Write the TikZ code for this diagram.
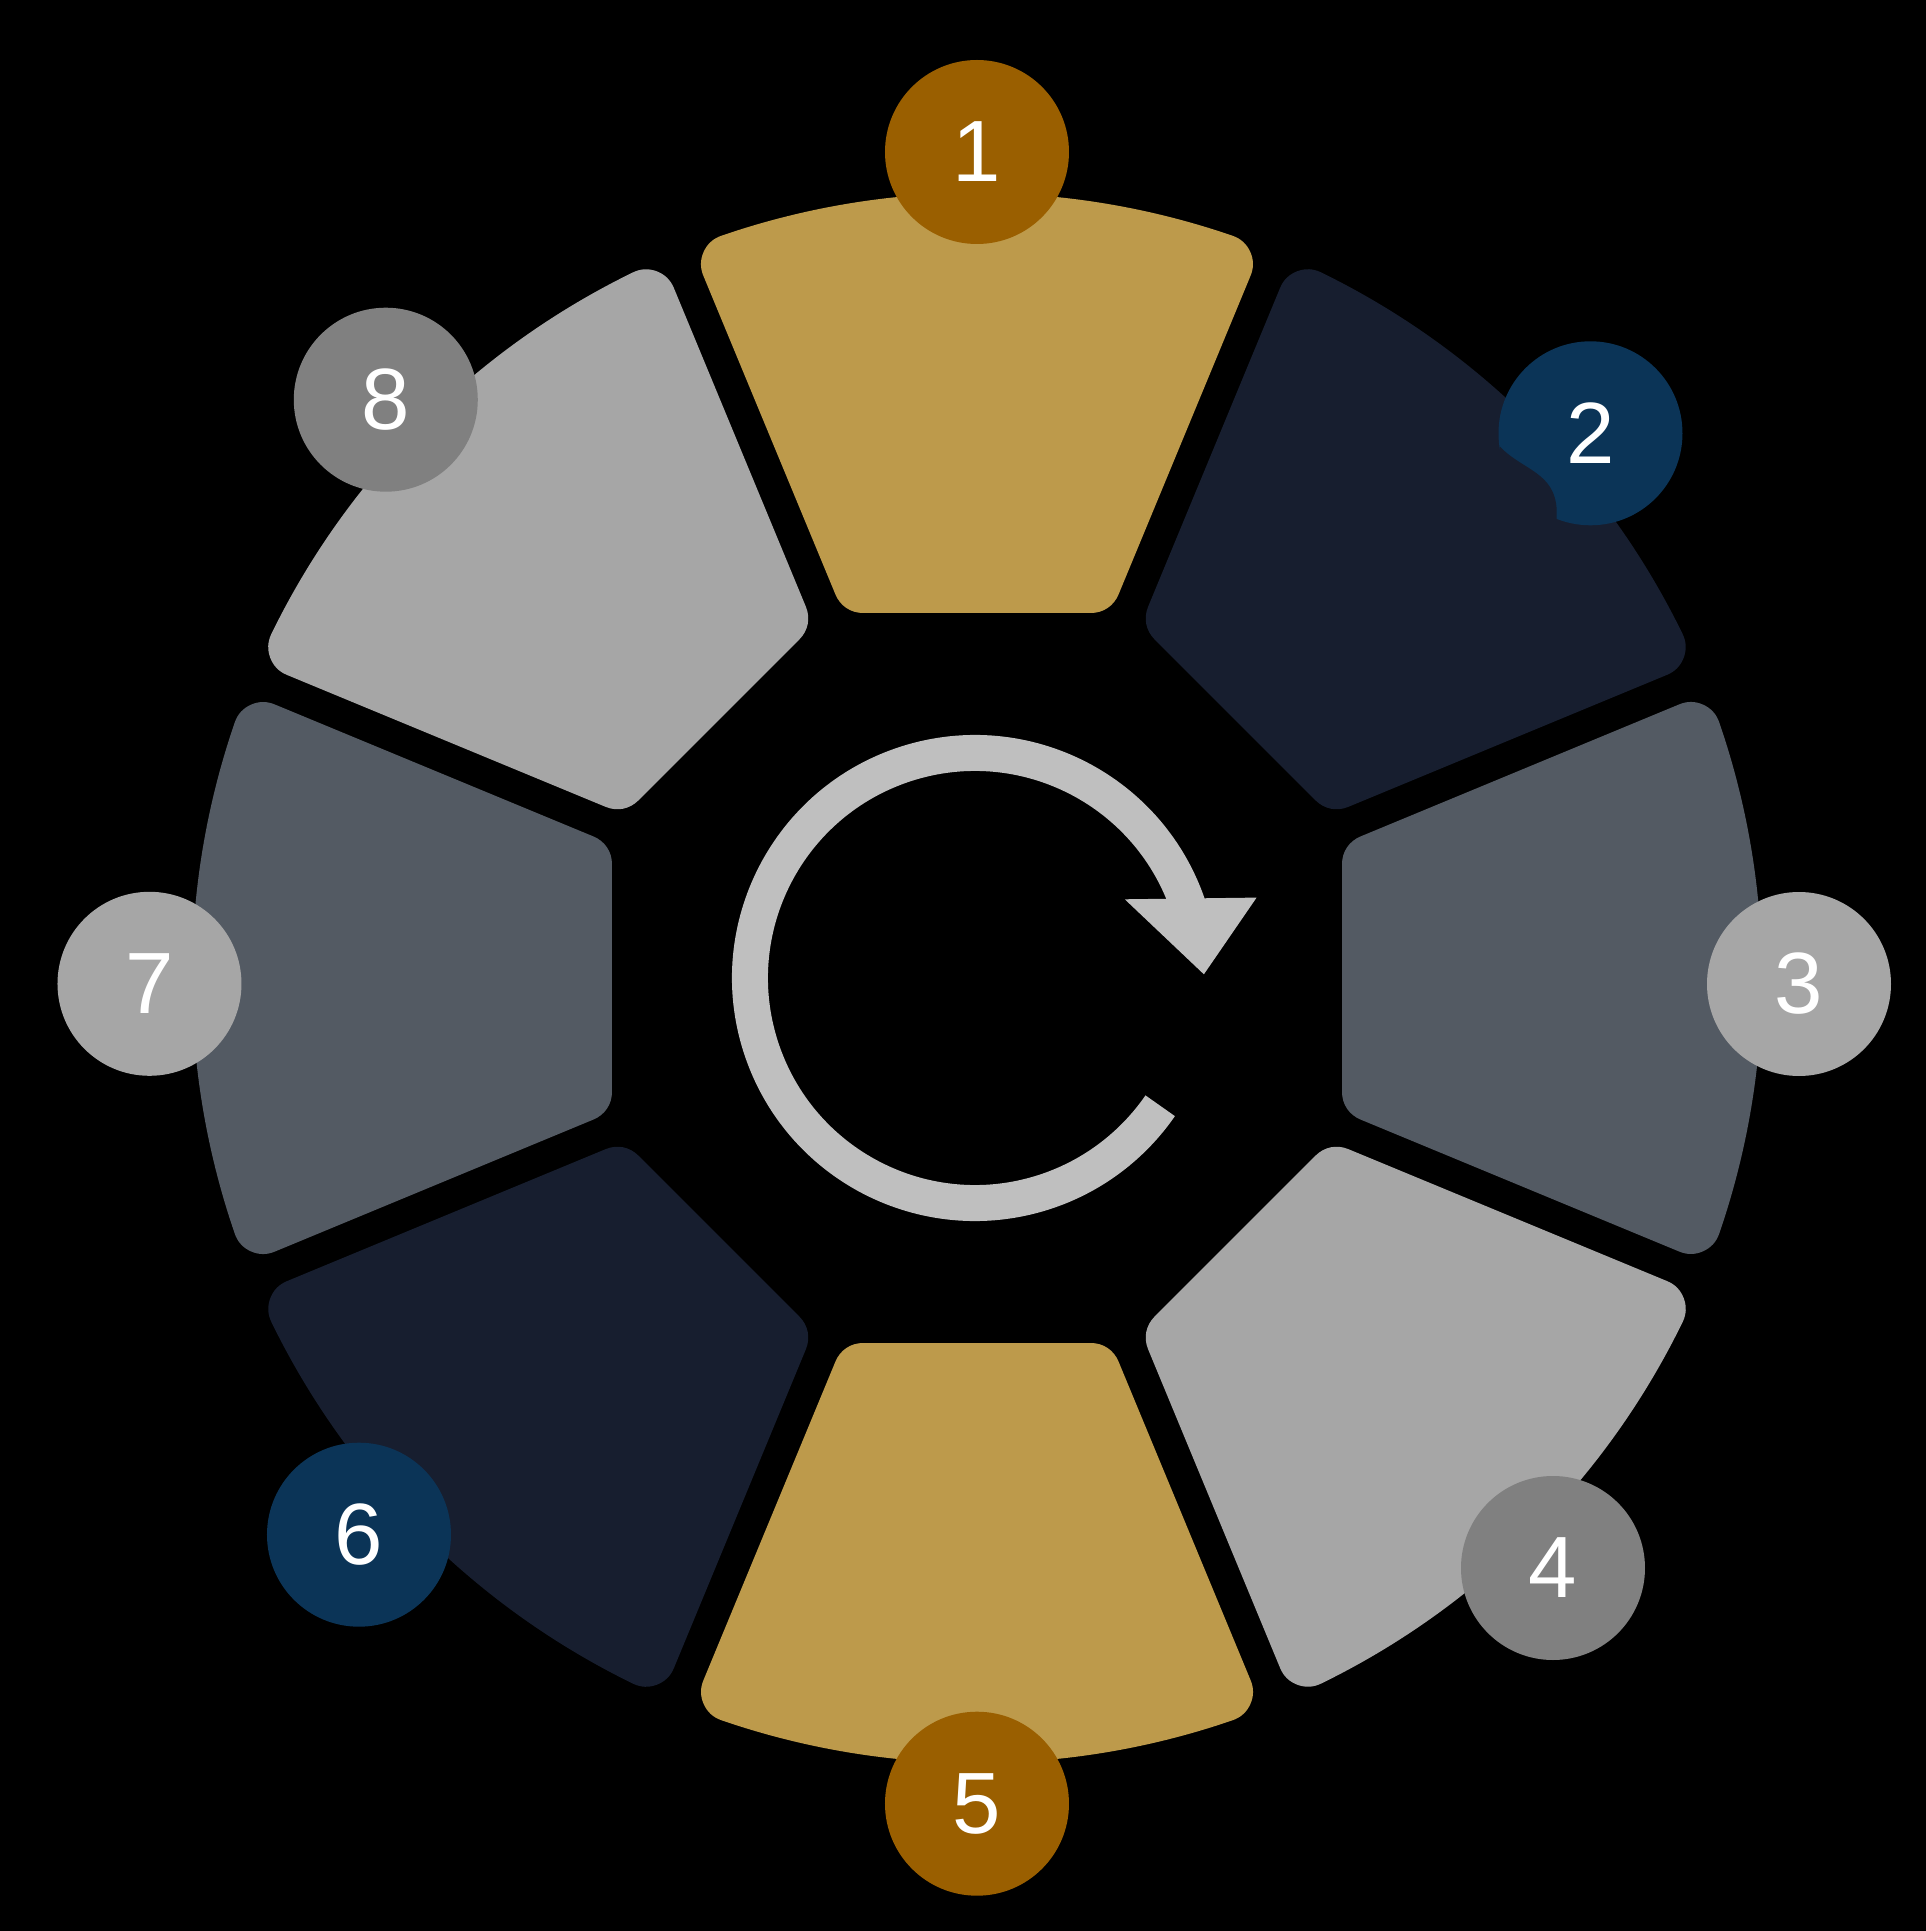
\documentclass[tikz,border=0pt]{standalone}
\usepackage{fontspec}
\setmainfont{Liberation Sans}
\definecolor{goldc}{HTML}{BD9A4B}
\definecolor{navyc}{HTML}{171E2F}
\definecolor{slatec}{HTML}{535A63}
\definecolor{lgrayc}{HTML}{A6A6A6}
\definecolor{brownc}{HTML}{9A5F00}
\definecolor{bluec}{HTML}{0B3457}
\definecolor{mgrayc}{HTML}{808080}
\definecolor{arrowc}{HTML}{BFBFBF}
\begin{document}
\begin{tikzpicture}[x=1pt,y=1pt,
  seg/.style={line width=60pt, line join=round},
  num/.style={circle, minimum size=184pt, inner sep=0pt, text=white, font=\fontsize{87}{100}\selectfont}]
\fill[black] (-977,-953) rectangle (949,978);
\useasboundingbox (-977,-953) rectangle (949,978);
\foreach \a/\c in {90/goldc,45/navyc,0/slatec,-45/lgrayc,-90/goldc,-135/navyc,180/slatec,135/lgrayc}{
  \begin{scope}[rotate=\a-90]
    \filldraw[seg, fill=\c, draw=\c] (-113.82,395) -- (113.82,395) -- (245.89,713.84)
      arc[start angle=70.99, end angle=109.01, radius=755] -- cycle;
  \end{scope}
}
% cycle arrow
\draw[arrowc, line width=36pt] (-2,0) ++(19:225) arc[start angle=19, end angle=325.4, radius=225];
\fill[arrowc] (147.8,78.7) -- (279.6,80.4) -- (226.9,3.7) -- cycle;
% numbered circles
\node[num, fill=brownc] (c1) at (0,826) {1};
\node[num, fill=bluec] (c2) at (613.5,544.7) {2};
\node[num, fill=lgrayc] (c3) at (822,-6) {3};
\node[num, fill=mgrayc] (c4) at (576,-590) {4};
\node[num, fill=brownc] (c5) at (0,-825.7) {5};
\node[num, fill=bluec] (c6) at (-618,-556.7) {6};
\node[num, fill=lgrayc] (c7) at (-827.5,-5.8) {7};
\node[num, fill=mgrayc] (c8) at (-591.2,578.3) {8};
% small overlap of segment 2 over circle 2
\fill[navyc] (523,531.3) .. controls (545,508) and (578,506) .. (579.7,468) -- (579.7,450) -- (515,450) -- cycle;
\end{tikzpicture}
\end{document}
